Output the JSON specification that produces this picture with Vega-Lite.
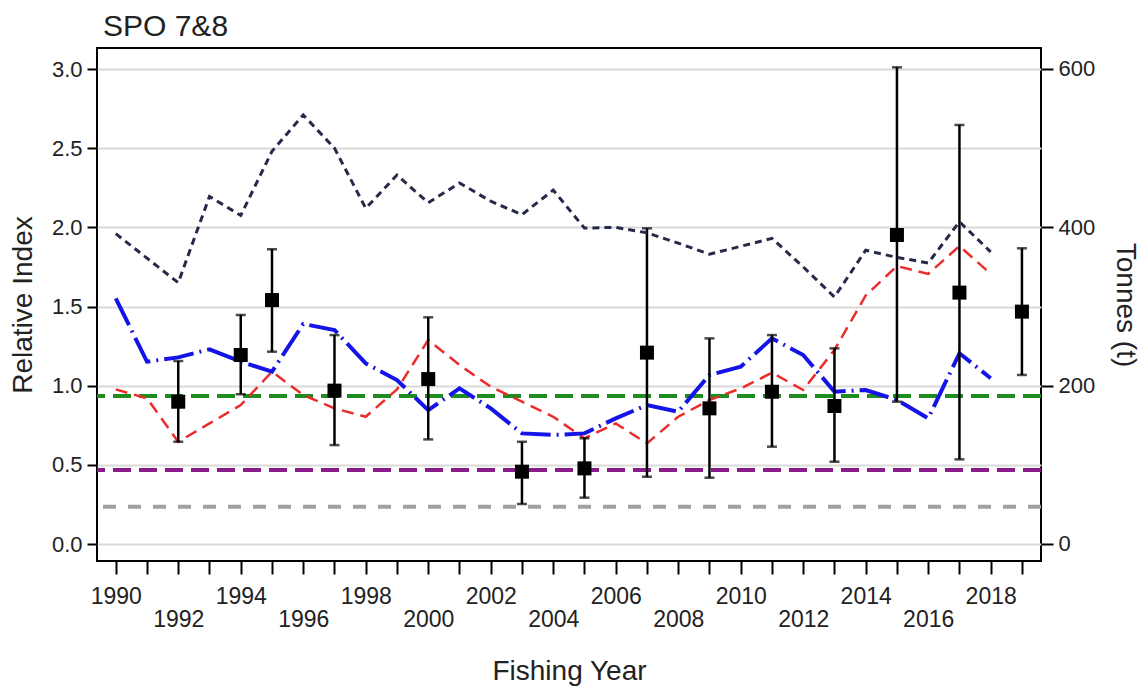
{
  "$schema": "https://vega.github.io/schema/vega-lite/v6.json",
  "width": 944,
  "height": 513,
  "autosize": {"type": "none"},
  "padding": {"left": 97, "top": 48, "right": 102, "bottom": 129},
  "background": "white",
  "config": {
    "view": {"stroke": "black", "strokeWidth": 2},
    "font": "Liberation Sans",
    "axis": {"labelColor": "#222", "titleColor": "#222", "titleFontWeight": "normal", "tickColor": "black", "tickWidth": 2, "domain": false, "labelFontSize": 22, "titleFontSize": 28}
  },
  "title": {"text": "SPO 7&8", "anchor": "start", "frame": "group", "fontSize": 30, "fontWeight": "normal", "color": "#222", "offset": 6, "dx": 6, "font": "Liberation Sans"},
  "datasets": {
    "refs": [
      {"ref": "target", "value": 0.935},
      {"ref": "soft", "value": 0.467},
      {"ref": "hard", "value": 0.236}
    ],
    "red": [
      {"year": 1990, "index": 0.977}, {"year": 1991, "index": 0.920}, {"year": 1992, "index": 0.646},
      {"year": 1993, "index": 0.762}, {"year": 1994, "index": 0.878}, {"year": 1995, "index": 1.089},
      {"year": 1996, "index": 0.941}, {"year": 1997, "index": 0.857}, {"year": 1998, "index": 0.804},
      {"year": 1999, "index": 0.977}, {"year": 2000, "index": 1.289}, {"year": 2001, "index": 1.131},
      {"year": 2002, "index": 0.994}, {"year": 2003, "index": 0.899}, {"year": 2004, "index": 0.804},
      {"year": 2005, "index": 0.668}, {"year": 2006, "index": 0.762}, {"year": 2007, "index": 0.636},
      {"year": 2008, "index": 0.804}, {"year": 2009, "index": 0.910}, {"year": 2010, "index": 0.983},
      {"year": 2011, "index": 1.082}, {"year": 2012, "index": 0.973}, {"year": 2013, "index": 1.226},
      {"year": 2014, "index": 1.570}, {"year": 2015, "index": 1.756}, {"year": 2016, "index": 1.706},
      {"year": 2017, "index": 1.882}, {"year": 2018, "index": 1.706}
    ],
    "blue": [
      {"year": 1990, "index": 1.552}, {"year": 1991, "index": 1.152}, {"year": 1992, "index": 1.179},
      {"year": 1993, "index": 1.230}, {"year": 1994, "index": 1.152}, {"year": 1995, "index": 1.089},
      {"year": 1996, "index": 1.390}, {"year": 1997, "index": 1.352}, {"year": 1998, "index": 1.141},
      {"year": 1999, "index": 1.036}, {"year": 2000, "index": 0.846}, {"year": 2001, "index": 0.983},
      {"year": 2002, "index": 0.857}, {"year": 2003, "index": 0.699}, {"year": 2004, "index": 0.689},
      {"year": 2005, "index": 0.699}, {"year": 2006, "index": 0.794}, {"year": 2007, "index": 0.878},
      {"year": 2008, "index": 0.836}, {"year": 2009, "index": 1.068}, {"year": 2010, "index": 1.120},
      {"year": 2011, "index": 1.299}, {"year": 2012, "index": 1.194}, {"year": 2013, "index": 0.962},
      {"year": 2014, "index": 0.973}, {"year": 2015, "index": 0.910}, {"year": 2016, "index": 0.794},
      {"year": 2017, "index": 1.205}, {"year": 2018, "index": 1.047}
    ],
    "survey": [
      {"year": 1992, "index": 0.899, "lo": 0.646, "hi": 1.156},
      {"year": 1994, "index": 1.194, "lo": 0.946, "hi": 1.447},
      {"year": 1995, "index": 1.541, "lo": 1.215, "hi": 1.862},
      {"year": 1997, "index": 0.969, "lo": 0.625, "hi": 1.320},
      {"year": 2000, "index": 1.042, "lo": 0.661, "hi": 1.432},
      {"year": 2003, "index": 0.457, "lo": 0.253, "hi": 0.646},
      {"year": 2005, "index": 0.478, "lo": 0.293, "hi": 0.668},
      {"year": 2007, "index": 1.209, "lo": 0.425, "hi": 1.994},
      {"year": 2009, "index": 0.857, "lo": 0.419, "hi": 1.299},
      {"year": 2011, "index": 0.962, "lo": 0.615, "hi": 1.320},
      {"year": 2013, "index": 0.872, "lo": 0.520, "hi": 1.236},
      {"year": 2015, "index": 1.952, "lo": 0.899, "hi": 3.011},
      {"year": 2017, "index": 1.588, "lo": 0.535, "hi": 2.647},
      {"year": 2019, "index": 1.468, "lo": 1.068, "hi": 1.868}
    ],
    "catch": [
      {"year": 1990, "tonnes": 392}, {"year": 1991, "tonnes": 361}, {"year": 1992, "tonnes": 330},
      {"year": 1993, "tonnes": 439}, {"year": 1994, "tonnes": 415}, {"year": 1995, "tonnes": 496},
      {"year": 1996, "tonnes": 542}, {"year": 1997, "tonnes": 500}, {"year": 1998, "tonnes": 424},
      {"year": 1999, "tonnes": 466}, {"year": 2000, "tonnes": 431}, {"year": 2001, "tonnes": 456},
      {"year": 2002, "tonnes": 433}, {"year": 2003, "tonnes": 416}, {"year": 2004, "tonnes": 447},
      {"year": 2005, "tonnes": 399}, {"year": 2006, "tonnes": 400}, {"year": 2007, "tonnes": 393},
      {"year": 2008, "tonnes": 380}, {"year": 2009, "tonnes": 366}, {"year": 2010, "tonnes": 376},
      {"year": 2011, "tonnes": 386}, {"year": 2012, "tonnes": 350}, {"year": 2013, "tonnes": 312},
      {"year": 2014, "tonnes": 371}, {"year": 2015, "tonnes": 362}, {"year": 2016, "tonnes": 355},
      {"year": 2017, "tonnes": 407}, {"year": 2018, "tonnes": 369}
    ]
  },
  "layer": [
    {
      "data": {"name": "refs"},
      "mark": {"type": "rule"},
      "encoding": {
        "y": {"field": "value", "type": "quantitative", "scale": {"domain": [-0.107, 3.133], "nice": false, "zero": false},
          "axis": {"orient": "left", "title": "Relative Index", "values": [0, 0.5, 1, 1.5, 2, 2.5, 3], "format": ".1f", "grid": true, "gridColor": "#d9d9d9", "gridWidth": 2, "tickSize": 10, "labelPadding": 5, "titlePadding": 14}},
        "color": {"field": "ref", "type": "nominal", "legend": null, "scale": {"domain": ["target", "soft", "hard"], "range": ["#1e8c1e", "#8b1a8b", "#a0a0a0"]}},
        "strokeDash": {"field": "ref", "type": "nominal", "legend": null, "scale": {"domain": ["target", "soft", "hard"], "range": [[18, 8], [18, 8], [13, 12]]}},
        "strokeWidth": {"field": "ref", "type": "nominal", "legend": null, "scale": {"domain": ["target", "soft", "hard"], "range": [4, 4, 3]}}
      }
    },
    {
      "data": {"name": "red"},
      "mark": {"type": "line", "color": "#ec2b2b", "strokeWidth": 2.5, "strokeDash": [12, 7]},
      "encoding": {
        "x": {"field": "year", "type": "quantitative", "scale": {"domain": [1989.4, 2019.61], "nice": false, "zero": false},
          "axis": {"orient": "bottom", "title": "Fishing Year", "values": [1990,1991,1992,1993,1994,1995,1996,1997,1998,1999,2000,2001,2002,2003,2004,2005,2006,2007,2008,2009,2010,2011,2012,2013,2014,2015,2016,2017,2018,2019],
            "format": "d", "labelExpr": "datum.value % 4 == 2 ? datum.label : ''", "labelFontSize": 23,
            "labelOverlap": false, "labelFlush": false, "labelBound": false, "labelPadding": 11, "tickSize": 13, "grid": false, "titlePadding": 49}},
        "y": {"field": "index", "type": "quantitative", "axis": null, "scale": {"domain": [-0.107, 3.133], "nice": false, "zero": false}}
      }
    },
    {
      "data": {"name": "blue"},
      "mark": {"type": "line", "color": "#1414e6", "strokeWidth": 4, "strokeDash": [30, 6, 2, 6]},
      "encoding": {
        "x": {"field": "year", "type": "quantitative",
          "axis": {"orient": "bottom", "title": null, "values": [1992, 1996, 2000, 2004, 2008, 2012, 2016], "format": "d", "labelFontSize": 23,
            "labelOverlap": false, "labelFlush": false, "labelBound": false, "ticks": false, "tickSize": 0, "labelPadding": 47, "grid": false}},
        "y": {"field": "index", "type": "quantitative", "axis": null, "scale": {"domain": [-0.107, 3.133], "nice": false, "zero": false}}
      }
    },
    {
      "data": {"name": "survey"},
      "mark": {"type": "rule", "color": "black", "strokeWidth": 2.5},
      "encoding": {
        "x": {"field": "year", "type": "quantitative", "axis": null},
        "y": {"field": "lo", "type": "quantitative", "axis": null, "scale": {"domain": [-0.107, 3.133], "nice": false, "zero": false}},
        "y2": {"field": "hi"}
      }
    },
    {
      "data": {"name": "survey"},
      "mark": {"type": "tick", "color": "black", "thickness": 2.5, "size": 10, "orient": "horizontal"},
      "encoding": {
        "x": {"field": "year", "type": "quantitative", "axis": null},
        "y": {"field": "lo", "type": "quantitative", "axis": null, "scale": {"domain": [-0.107, 3.133], "nice": false, "zero": false}}
      }
    },
    {
      "data": {"name": "survey"},
      "mark": {"type": "tick", "color": "black", "thickness": 2.5, "size": 10, "orient": "horizontal"},
      "encoding": {
        "x": {"field": "year", "type": "quantitative", "axis": null},
        "y": {"field": "hi", "type": "quantitative", "axis": null, "scale": {"domain": [-0.107, 3.133], "nice": false, "zero": false}}
      }
    },
    {
      "data": {"name": "survey"},
      "mark": {"type": "point", "shape": "square", "filled": true, "color": "black", "opacity": 1, "size": 196},
      "encoding": {
        "x": {"field": "year", "type": "quantitative", "axis": null},
        "y": {"field": "index", "type": "quantitative", "axis": null, "scale": {"domain": [-0.107, 3.133], "nice": false, "zero": false}}
      }
    },
    {
      "data": {"name": "catch"},
      "mark": {"type": "line", "color": "#262a4a", "strokeWidth": 3, "strokeDash": [7, 5]},
      "encoding": {
        "x": {"field": "year", "type": "quantitative", "axis": null},
        "y": {"field": "tonnes", "type": "quantitative", "scale": {"domain": [-21.5, 626.5], "nice": false, "zero": false},
          "axis": {"orient": "right", "title": "Tonnes (t)", "values": [0, 200, 400, 600], "grid": false, "tickSize": 12, "labelPadding": 5, "titlePadding": 16}}
      }
    }
  ],
  "resolve": {"scale": {"y": "independent"}, "axis": {"x": "independent"}}
}
